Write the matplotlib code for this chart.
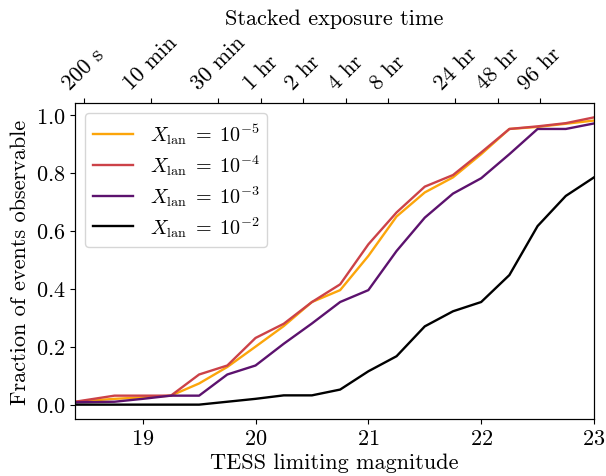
import numpy as np
import matplotlib
matplotlib.use("Agg")
import matplotlib.pyplot as plt

plt.rcParams['font.family'] = 'serif'
plt.rcParams['font.serif'] = ['cmr10']
plt.rcParams['mathtext.fontset'] = 'cm'
plt.rcParams['axes.formatter.use_mathtext'] = True

# TESS limiting magnitude grid
mag = [18.4, 18.75, 19.0, 19.25, 19.5, 19.75, 20.0, 20.25, 20.5, 20.75,
       21.0, 21.25, 21.5, 21.75, 22.0, 22.25, 22.5, 22.75, 23.0]

# fraction of events observable for each lanthanide fraction
frac_1e5 = [0.01, 0.02, 0.025, 0.031, 0.073, 0.13, 0.20, 0.271, 0.354, 0.395,
            0.513, 0.649, 0.732, 0.784, 0.864, 0.951, 0.958, 0.969, 0.98]
frac_1e4 = [0.01, 0.031, 0.031, 0.031, 0.104, 0.135, 0.23, 0.279, 0.354, 0.415,
            0.553, 0.663, 0.752, 0.792, 0.87, 0.951, 0.96, 0.971, 0.991]
frac_1e3 = [0.008, 0.01, 0.02, 0.031, 0.031, 0.104, 0.135, 0.21, 0.28, 0.354,
            0.395, 0.53, 0.645, 0.728, 0.781, 0.864, 0.951, 0.951, 0.97]
frac_1e2 = [0.0, 0.0, 0.0, 0.0, 0.0, 0.01, 0.02, 0.032, 0.032, 0.052,
            0.115, 0.167, 0.27, 0.322, 0.354, 0.447, 0.616, 0.72, 0.784]

labels = [r'$X_{\rm lan}\;=\;10^{-5}$', r'$X_{\rm lan}\;=\;10^{-4}$',
          r'$X_{\rm lan}\;=\;10^{-3}$', r'$X_{\rm lan}\;=\;10^{-2}$']
colors = ['#fca50a', '#cc4248', '#5c126e', '#000000']

# stacked exposure times (seconds) for the top axis
exp_times = [200, 600, 1800, 3600, 7200, 14400, 28800, 86400, 172800, 345600]
exp_labels = ['200 s', '10 min', '30 min', '1 hr', '2 hr', '4 hr', '8 hr',
              '24 hr', '48 hr', '96 hr']
mag_1hr = 20.046  # limiting magnitude for 1 hr stack


def exp_to_mag(t):
    return mag_1hr + 1.25 * np.log10(np.asarray(t) / 3600.0)


fig = plt.figure(figsize=(6.06, 4.77), dpi=100)
ax = fig.add_subplot(111)
fig.subplots_adjust(left=75 / 606, right=594 / 606, bottom=57 / 477, top=373 / 477)

for y, lab, c in zip([frac_1e5, frac_1e4, frac_1e3, frac_1e2], labels, colors):
    ax.plot(mag, y, color=c, label=lab, linewidth=1.7)

ax.set_xlim(18.4, 23.0)
ax.set_xticks([19, 20, 21, 22, 23])
ax.set_xlabel('TESS limiting magnitude', fontsize=16, labelpad=3)
ax.set_ylabel('Fraction of events observable', fontsize=16, labelpad=4)
ax.tick_params(labelsize=16)
ax.legend(loc='upper left', fontsize=14.5, handlelength=2.0, labelspacing=0.3)

ax2 = ax.twiny()
ax2.set_xlim(ax.get_xlim())
ax2.set_xticks(exp_to_mag(exp_times))
ax2.set_xticklabels(exp_labels, rotation=45, fontsize=16)
ax2.set_xlabel('Stacked exposure time', fontsize=16, labelpad=6)

fig.savefig('out.png', dpi=100)
